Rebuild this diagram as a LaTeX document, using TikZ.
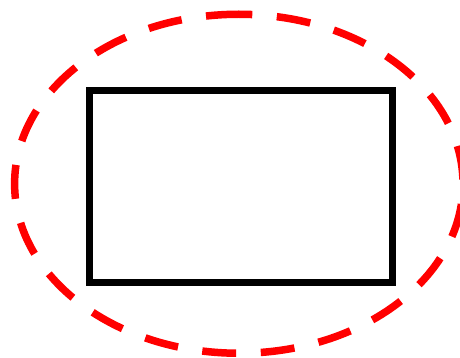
\documentclass[tikz,border=0pt]{standalone}
\begin{document}
\begin{tikzpicture}[x=1pt,y=-1pt,
  boxline/.style={draw=black,line width=7pt,line join=miter},
  ringline/.style={draw=red,line width=7.5pt,dash pattern=on 34pt off 24.6pt,dash phase=20.5pt}]
  \useasboundingbox (0,0) rectangle (460,358);
  \clip (0,0) rectangle (460,358);
  \fill[white] (0,0) rectangle (460,358);
  \node[boxline,rectangle,inner sep=0pt,outer sep=0pt,minimum width=303.3pt,minimum height=192.3pt] (box) at (241.15,186.4) {};
  \coordinate (top) at (238.8,14.25);
  \draw[ringline] (top) arc[start angle=-90,end angle=270,x radius=224.2,y radius=169.5];
\end{tikzpicture}
\end{document}
